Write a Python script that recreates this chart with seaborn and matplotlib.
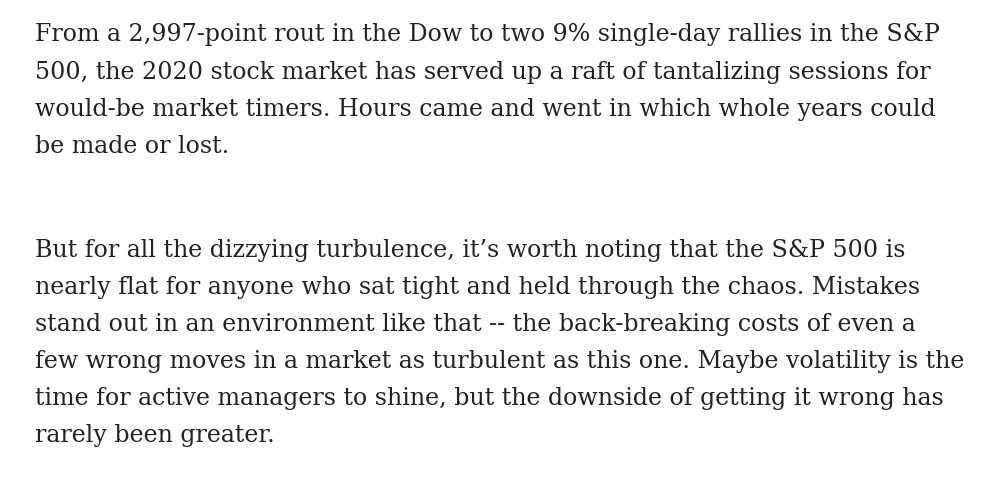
import matplotlib
matplotlib.use("Agg")
import matplotlib.pyplot as plt
import seaborn as sns

para1 = [
    "From a 2,997-point rout in the Dow to two 9% single-day rallies in the S&P",
    "500, the 2020 stock market has served up a raft of tantalizing sessions for",
    "would-be market timers. Hours came and went in which whole years could",
    "be made or lost.",
]
para2 = [
    "But for all the dizzying turbulence, it\u2019s worth noting that the S&P 500 is",
    "nearly flat for anyone who sat tight and held through the chaos. Mistakes",
    "stand out in an environment like that -- the back-breaking costs of even a",
    "few wrong moves in a market as turbulent as this one. Maybe volatility is the",
    "time for active managers to shine, but the downside of getting it wrong has",
    "rarely been greater.",
]

sns.set_style("white")
plt.rcParams['font.family'] = ['DejaVu Serif']

fig = plt.figure(figsize=(9.83, 4.96), dpi=100)
ax = fig.add_axes([0, 0, 1, 1])
ax.set_xlim(0, 983)
ax.set_ylim(496, 0)
ax.axis("off")

line_h = 37.2
y = 35
for line in para1:
    ax.text(35, y, line, fontsize=17.1, color="#222222", va="center", ha="left")
    y += line_h
y = 250
for line in para2:
    ax.text(35, y, line, fontsize=17.1, color="#222222", va="center", ha="left")
    y += line_h

fig.savefig("out.png", dpi=100, facecolor="white")
